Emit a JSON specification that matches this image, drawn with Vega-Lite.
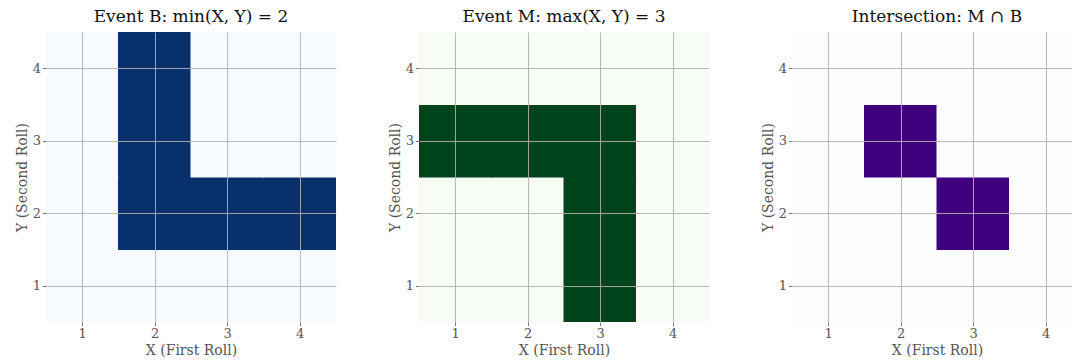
{
  "$schema": "https://vega.github.io/schema/vega-lite/v6.json",
  "padding": {"left": 15, "top": 8, "right": 0, "bottom": 0},
  "background": "white",
  "spacing": 83,
  "bounds": "flush",
  "resolve": {"scale": {"color": "independent"}},
  "datasets": {
    "B": [
      {"x":1,"y":1,"v":0},{"x":2,"y":1,"v":0},{"x":3,"y":1,"v":0},{"x":4,"y":1,"v":0},
      {"x":1,"y":2,"v":0},{"x":2,"y":2,"v":1},{"x":3,"y":2,"v":1},{"x":4,"y":2,"v":1},
      {"x":1,"y":3,"v":0},{"x":2,"y":3,"v":1},{"x":3,"y":3,"v":0},{"x":4,"y":3,"v":0},
      {"x":1,"y":4,"v":0},{"x":2,"y":4,"v":1},{"x":3,"y":4,"v":0},{"x":4,"y":4,"v":0}
    ],
    "M": [
      {"x":1,"y":1,"v":0},{"x":2,"y":1,"v":0},{"x":3,"y":1,"v":1},{"x":4,"y":1,"v":0},
      {"x":1,"y":2,"v":0},{"x":2,"y":2,"v":0},{"x":3,"y":2,"v":1},{"x":4,"y":2,"v":0},
      {"x":1,"y":3,"v":1},{"x":2,"y":3,"v":1},{"x":3,"y":3,"v":1},{"x":4,"y":3,"v":0},
      {"x":1,"y":4,"v":0},{"x":2,"y":4,"v":0},{"x":3,"y":4,"v":0},{"x":4,"y":4,"v":0}
    ],
    "I": [
      {"x":1,"y":1,"v":0},{"x":2,"y":1,"v":0},{"x":3,"y":1,"v":0},{"x":4,"y":1,"v":0},
      {"x":1,"y":2,"v":0},{"x":2,"y":2,"v":0},{"x":3,"y":2,"v":1},{"x":4,"y":2,"v":0},
      {"x":1,"y":3,"v":0},{"x":2,"y":3,"v":1},{"x":3,"y":3,"v":0},{"x":4,"y":3,"v":0},
      {"x":1,"y":4,"v":0},{"x":2,"y":4,"v":0},{"x":3,"y":4,"v":0},{"x":4,"y":4,"v":0}
    ]
  },
  "config": {
    "font": "DejaVu Serif",
    "view": {"stroke": null},
    "title": {"font": "DejaVu Serif", "fontSize": 17, "fontWeight": "normal", "color": "#111111", "offset": 6},
    "axis": {
      "labelFont": "DejaVu Serif", "titleFont": "DejaVu Serif",
      "labelFontSize": 13, "titleFontSize": 14, "titleFontWeight": "normal",
      "labelColor": "#555555", "titleColor": "#555555",
      "tickColor": "#555555", "tickSize": 3.5, "tickWidth": 0.8,
      "domain": false, "grid": true, "gridColor": "#b0b0b0", "gridWidth": 1, "gridOpacity": 0.9,
      "labelAngle": 0, "labelPadding": 2, "titlePadding": 3
    }
  },
  "hconcat": [
    {
      "width": 290, "height": 290,
      "title": "Event B: min(X, Y) = 2",
      "data": {"name": "B"},
      "mark": {"type": "square", "size": 5400, "filled": true, "opacity": 1, "clip": true},
      "encoding": {
        "x": {"field": "x", "type": "quantitative", "title": "X (First Roll)", "scale": {"domain": [0.5, 4.5], "nice": false, "zero": false}, "axis": {"values": [1, 2, 3, 4], "format": "d", "zindex": 1}},
        "y": {"field": "y", "type": "quantitative", "title": "Y (Second Roll)", "scale": {"domain": [0.5, 4.5], "nice": false, "zero": false}, "axis": {"values": [1, 2, 3, 4], "format": "d", "zindex": 1}},
        "color": {"field": "v", "type": "quantitative", "scale": {"domain": [0, 1], "range": ["#f7fbff", "#08306b"]}, "legend": null}
      }
    },
    {
      "width": 290, "height": 290,
      "title": "Event M: max(X, Y) = 3",
      "data": {"name": "M"},
      "mark": {"type": "square", "size": 5400, "filled": true, "opacity": 1, "clip": true},
      "encoding": {
        "x": {"field": "x", "type": "quantitative", "title": "X (First Roll)", "scale": {"domain": [0.5, 4.5], "nice": false, "zero": false}, "axis": {"values": [1, 2, 3, 4], "format": "d", "zindex": 1}},
        "y": {"field": "y", "type": "quantitative", "title": "Y (Second Roll)", "scale": {"domain": [0.5, 4.5], "nice": false, "zero": false}, "axis": {"values": [1, 2, 3, 4], "format": "d", "zindex": 1}},
        "color": {"field": "v", "type": "quantitative", "scale": {"domain": [0, 1], "range": ["#f7fcf5", "#00441b"]}, "legend": null}
      }
    },
    {
      "width": 290, "height": 290,
      "title": "Intersection: M ∩ B",
      "data": {"name": "I"},
      "mark": {"type": "square", "size": 5400, "filled": true, "opacity": 1, "clip": true},
      "encoding": {
        "x": {"field": "x", "type": "quantitative", "title": "X (First Roll)", "scale": {"domain": [0.5, 4.5], "nice": false, "zero": false}, "axis": {"values": [1, 2, 3, 4], "format": "d", "zindex": 1}},
        "y": {"field": "y", "type": "quantitative", "title": "Y (Second Roll)", "scale": {"domain": [0.5, 4.5], "nice": false, "zero": false}, "axis": {"values": [1, 2, 3, 4], "format": "d", "zindex": 1}},
        "color": {"field": "v", "type": "quantitative", "scale": {"domain": [0, 1], "range": ["#fcfbfd", "#3f007d"]}, "legend": null}
      }
    }
  ]
}
